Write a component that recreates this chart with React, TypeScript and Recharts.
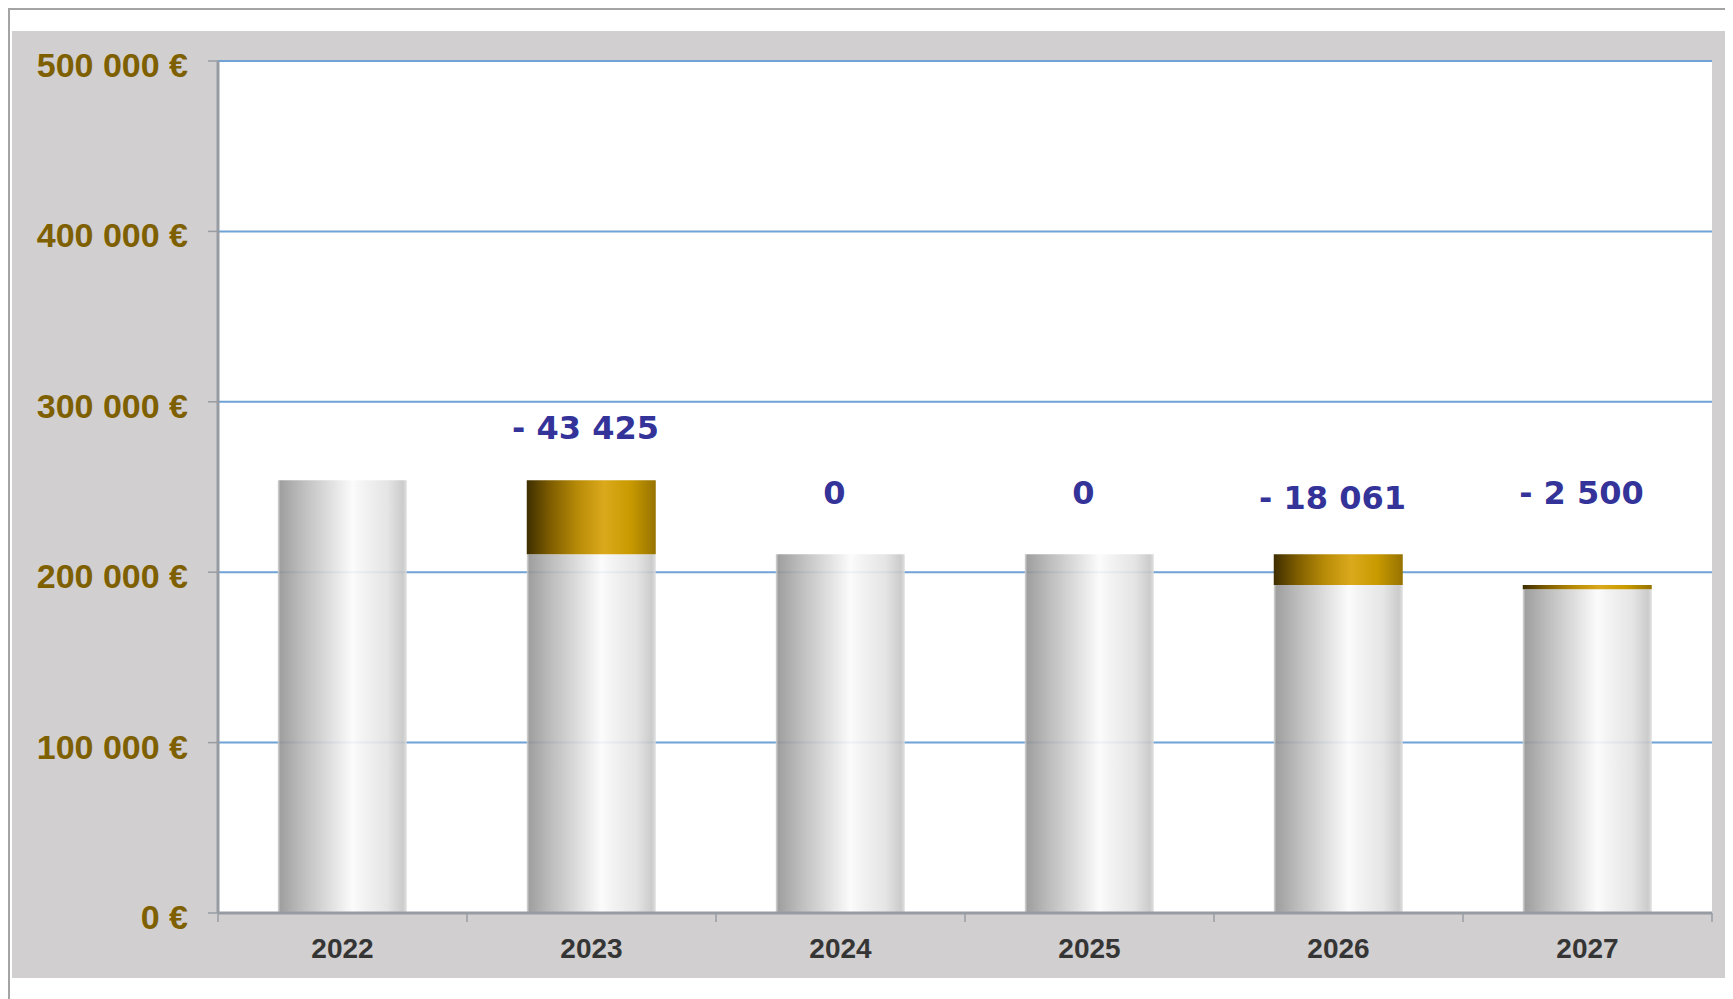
import {
  ComposedChart,
  Bar,
  Line,
  XAxis,
  YAxis,
  CartesianGrid,
  LabelList,
} from "recharts";

const years = ["2022", "2023", "2024", "2025", "2026", "2027"];
const remaining = [254000, 210575, 210575, 210575, 192514, 190014];
const drops = [0, 43425, 0, 0, 18061, 2500];
const hasLabel = [false, true, true, true, true, true];
// euro level at which each drop label sits
const labelLevels = [null, 284900, 246500, 246500, 243800, 246800];
const yTicks = [0, 100000, 200000, 300000, 400000, 500000];

const CHART_W = 1721;
const CHART_H = 947;
const MARGIN = { top: 30, right: 21, bottom: 0, left: 0 };
const Y_AXIS_W = 206;
const X_AXIS_H = 65;
const BAND = (CHART_W - MARGIN.right - Y_AXIS_W) / years.length;

const AXIS_GRAY = "#979ca3";

const fmtNumber = (v: number) =>
  String(Math.round(v)).replace(/\B(?=(\d{3})+(?!\d))/g, " ");

const fmtDrop = (v: number) => (v === 0 ? "0" : "- " + fmtNumber(v));

const data = years.map((year, i) => ({
  year,
  remaining: remaining[i],
  drop: drops[i],
  level: labelLevels[i],
  label: hasLabel[i] ? fmtDrop(drops[i]) : "",
}));

const DropLabel = (props: any) => {
  const { x, y, value } = props;
  if (!value || y == null || isNaN(y)) return null;
  return (
    <text
      x={x - 6}
      y={y}
      dy="0.36em"
      textAnchor="middle"
      fill="#333399"
      fontFamily="'DejaVu Sans', Verdana, sans-serif"
      fontWeight="bold"
      fontSize={32}
    >
      {value}
    </text>
  );
};

const YearTick = (props: any) => {
  const { x, y, payload, index } = props;
  const left = x - BAND / 2;
  const right = x + BAND / 2;
  return (
    <g>
      <line x1={left} x2={left} y1={y} y2={y + 9} stroke={AXIS_GRAY} strokeWidth={1.5} />
      {index === years.length - 1 && (
        <line x1={right} x2={right} y1={y} y2={y + 9} stroke={AXIS_GRAY} strokeWidth={1.5} />
      )}
      <text
        x={x}
        y={y + 35}
        dy="0.36em"
        textAnchor="middle"
        fill="#353535"
        fontFamily="'Liberation Sans', Arial, sans-serif"
        fontWeight="bold"
        fontSize={28}
      >
        {payload.value}
      </text>
    </g>
  );
};

export default function App() {
  return (
    <div
      style={{
        width: 1725,
        height: 991,
        boxSizing: "border-box",
        borderLeft: "2px solid #a4a4a4",
        borderTop: "2px solid #a4a4a4",
        background: "#fff",
        position: "relative",
        overflow: "hidden",
      }}
    >
      <div style={{ position: "absolute", left: 2, top: 21 }}>
        <ComposedChart
          width={CHART_W}
          height={CHART_H}
          data={data}
          margin={MARGIN}
          barCategoryGap="24%"
          style={{ background: "#d1cfd0" }}
        >
          <defs>
            <linearGradient id="silver" x1="0" y1="0" x2="1" y2="0">
              <stop offset="0%" stopColor="#d6d6d6" />
              <stop offset="2%" stopColor="#959595" />
              <stop offset="18%" stopColor="#b4b4b4" />
              <stop offset="42%" stopColor="#dedede" />
              <stop offset="58%" stopColor="#fbfbfb" />
              <stop offset="66%" stopColor="#f2f2f2" />
              <stop offset="85%" stopColor="#e2e2e2" />
              <stop offset="97%" stopColor="#c6c6c6" />
              <stop offset="100%" stopColor="#dcdcdc" />
            </linearGradient>
            <linearGradient id="gold" x1="0" y1="0" x2="1" y2="0">
              <stop offset="0%" stopColor="#3e2e00" />
              <stop offset="18%" stopColor="#7e5d00" />
              <stop offset="40%" stopColor="#b98c08" />
              <stop offset="60%" stopColor="#dba91c" />
              <stop offset="80%" stopColor="#c99a00" />
              <stop offset="100%" stopColor="#967300" />
            </linearGradient>
          </defs>
          <CartesianGrid
            yAxisId="left"
            vertical={false}
            stroke="#6fa2d6"
            strokeWidth={2}
            fill="#ffffff"
          />
          <XAxis
            dataKey="year"
            height={X_AXIS_H}
            axisLine={{ stroke: AXIS_GRAY, strokeWidth: 3 }}
            tickLine={false}
            tickSize={0}
            tickMargin={0}
            tick={<YearTick />}
            interval={0}
          />
          <YAxis
            yAxisId="left"
            width={Y_AXIS_W}
            domain={[0, 500000]}
            ticks={yTicks}
            allowDataOverflow
            axisLine={{ stroke: AXIS_GRAY, strokeWidth: 3 }}
            tickLine={{ stroke: AXIS_GRAY, strokeWidth: 1.5 }}
            tickSize={10}
            tickMargin={20}
            tickFormatter={(v: number) => fmtNumber(v) + " €"}
            tick={{
              fill: "#7f6000",
              fontSize: 34,
              fontWeight: "bold",
              fontFamily: "'Liberation Sans', Arial, sans-serif",
              dy: 4,
            }}
          />
          <YAxis
            yAxisId="right"
            orientation="right"
            width={0}
            domain={[0, 500000]}
            tick={false}
            tickLine={false}
            axisLine={{ stroke: "#8d9aab", strokeWidth: 3 }}
          />
          <Bar
            yAxisId="left"
            dataKey="remaining"
            stackId="a"
            fill="url(#silver)"
            fillOpacity={0.9}
            isAnimationActive={false}
          />
          <Bar
            yAxisId="left"
            dataKey="drop"
            stackId="a"
            fill="url(#gold)"
            isAnimationActive={false}
          />
          <Line
            yAxisId="left"
            dataKey="level"
            stroke="none"
            dot={false}
            activeDot={false}
            legendType="none"
            isAnimationActive={false}
          >
            <LabelList dataKey="label" content={<DropLabel />} />
          </Line>
        </ComposedChart>
      </div>
    </div>
  );
}
